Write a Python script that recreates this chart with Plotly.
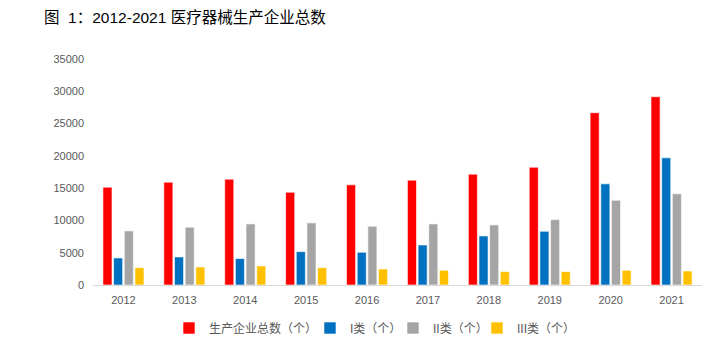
import plotly.graph_objects as go

years = ["2012", "2013", "2014", "2015", "2016", "2017", "2018", "2019", "2020", "2021"]
total = [15150, 15925, 16390, 14370, 15510, 16240, 17170, 18250, 26680, 29160]
class1 = [4190, 4340, 4090, 5170, 5070, 6200, 7600, 8320, 15670, 19700]
class2 = [8380, 8950, 9460, 9620, 9100, 9460, 9310, 10130, 13130, 14120]
class3 = [2690, 2790, 2950, 2690, 2480, 2280, 2070, 2070, 2280, 2170]

names = ["生产企业总数（个）", "I类（个）", "II类（个）", "III类（个）"]
colors = ["#FF0000", "#0070C0", "#A5A5A5", "#FFC000"]
series = [total, class1, class2, class3]
legend_ids = ["legend", "legend2", "legend3", "legend4"]

# figure is drawn inside the page body (8px default margin), so figure coords = page - 8
W, H = 699, 342
legend_left = [161, 302, 385, 469]

font_fam = "Liberation Sans, Arial, Noto Sans CJK SC, sans-serif"

fig = go.Figure()
for n, c, s, lg in zip(names, colors, series, legend_ids):
    fig.add_trace(go.Bar(x=years, y=s, name=n, legend=lg,
                         marker=dict(color=c, line=dict(color="white", width=0.6))))

legend_style = dict(orientation="h", xref="container", yref="container",
                    xanchor="left", yanchor="middle", y=(H - 320) / H,
                    font=dict(size=12, color="#595959",
                              family="Liberation Sans, Noto Sans CJK SC, sans-serif"),
                    bgcolor="rgba(0,0,0,0)", visible=True)

layout_legends = {}
for lg, px in zip(legend_ids, legend_left):
    layout_legends[lg] = dict(legend_style, x=px / W)

fig.update_layout(
    width=W, height=H,
    showlegend=True,
    margin=dict(l=84.5, r=4.5, t=51, b=65),
    paper_bgcolor="white", plot_bgcolor="white",
    barmode="group", bargap=0.3, bargroupgap=0.15,
    font=dict(family=font_fam, color="#595959", size=11),
    title=dict(text="图  1：2012-2021 医疗器械生产企业总数",
               xref="container", yref="container",
               x=36 / W, xanchor="left", y=1 - 9.5 / H, yanchor="middle",
               font=dict(family="Liberation Sans, Noto Sans CJK SC, sans-serif", size=15.5, color="#000000")),
    xaxis=dict(showline=True, linecolor="#D9D9D9", linewidth=1, ticks="",
               tickfont=dict(size=11, color="#595959"), showgrid=False,
               ticklabelstandoff=5),
    yaxis=dict(range=[0, 35000], dtick=5000, tickformat="d", showgrid=False, zeroline=False,
               showline=False, tickfont=dict(size=11, color="#595959"),
               ticklabelstandoff=8),
    **layout_legends,
)

fig.write_html("out.html")
